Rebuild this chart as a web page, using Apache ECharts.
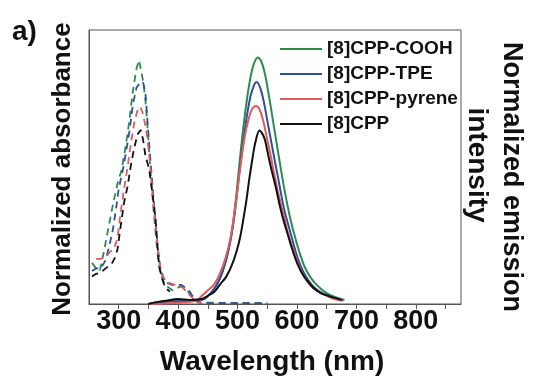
<!DOCTYPE html>
<html>
<head>
<meta charset="utf-8">
<script src="https://cdn.jsdelivr.net/npm/echarts@6/dist/echarts.min.js"></script>
<style>
html,body{margin:0;padding:0;background:#fff;}
#c{width:540px;height:381px;}
</style>
</head>
<body>
<div id="c"></div>
<script>
// ---- data (wavelength nm, normalized value) ----
var seriesNames = ['[8]CPP-COOH', '[8]CPP-TPE', '[8]CPP-pyrene', '[8]CPP'];
var xTickLabels = [300, 400, 500, 600, 700, 800];

// emission spectra (solid)
var coohEm = [[350,0],[370,0.008],[390,0.013],[410,0.015],[430,0.012],[445,0.02],[455,0.04],[465,0.07],[475,0.12],[485,0.2],[492,0.29],[498,0.4],[504,0.53],[510,0.65],[516,0.75],[522,0.83],[528,0.88],[534,0.9],[540,0.885],[546,0.84],[552,0.77],[558,0.69],[564,0.61],[570,0.53],[577,0.44],[584,0.36],[590,0.3],[596,0.25],[604,0.19],[613,0.135],[622,0.1],[630,0.077],[638,0.06],[650,0.04],[665,0.025],[680,0.015]];
var tpeEm = [[350,0],[370,0.006],[400,0.01],[430,0.012],[445,0.02],[455,0.04],[465,0.07],[475,0.12],[485,0.2],[492,0.28],[498,0.38],[504,0.5],[510,0.6],[516,0.69],[522,0.76],[528,0.8],[532,0.81],[538,0.79],[544,0.74],[550,0.67],[556,0.6],[562,0.53],[570,0.44],[578,0.35],[589,0.26],[598,0.19],[606,0.14],[615,0.1],[625,0.07],[635,0.05],[650,0.032],[665,0.02],[678,0.013]];
var pyreneEm = [[350,0],[400,0.005],[430,0.012],[440,0.03],[450,0.05],[460,0.07],[470,0.11],[480,0.17],[488,0.24],[494,0.32],[500,0.42],[506,0.52],[512,0.61],[518,0.67],[524,0.71],[531,0.723],[537,0.71],[543,0.67],[549,0.61],[555,0.55],[562,0.47],[570,0.39],[578,0.32],[586,0.25],[595,0.19],[603,0.14],[612,0.1],[622,0.07],[632,0.05],[645,0.035],[660,0.02],[676,0.012]];
var cppEm = [[350,0],[360,0.005],[380,0.012],[400,0.018],[420,0.015],[440,0.018],[450,0.03],[461,0.045],[470,0.07],[481,0.1],[490,0.14],[498,0.19],[504,0.24],[509,0.3],[515,0.38],[520,0.46],[525,0.53],[530,0.59],[537,0.633],[542,0.62],[546,0.6],[550,0.56],[556,0.5],[565,0.42],[572,0.35],[578,0.3],[585,0.25],[592,0.2],[602,0.14],[612,0.1],[627,0.06],[640,0.04],[655,0.028],[675,0.015]];

// absorbance spectra (dashed)
var coohAbs = [[255,0.15],[262,0.13],[268,0.12],[275,0.19],[282,0.27],[290,0.36],[298,0.44],[305,0.49],[312,0.58],[318,0.67],[324,0.78],[330,0.86],[334,0.89],[338,0.85],[342,0.8],[346,0.72],[350,0.6],[354,0.47],[358,0.36],[362,0.26],[366,0.17],[370,0.11],[378,0.07],[390,0.05],[405,0.065],[415,0.05],[425,0.02],[435,0.005],[550,0.003]];
var tpeAbs = [[255,0.12],[262,0.13],[270,0.13],[278,0.16],[285,0.22],[290,0.27],[295,0.34],[300,0.42],[306,0.48],[312,0.55],[318,0.63],[324,0.73],[330,0.79],[337,0.81],[341,0.81],[345,0.77],[348,0.68],[351,0.59],[354,0.51],[358,0.4],[362,0.3],[366,0.2],[370,0.13],[378,0.08],[390,0.07],[405,0.07],[418,0.05],[430,0.01],[440,0.003],[550,0.003]];
var pyreneAbs = [[262,0.165],[270,0.165],[278,0.17],[285,0.19],[292,0.2],[298,0.24],[303,0.33],[309,0.42],[315,0.5],[320,0.58],[326,0.66],[332,0.71],[336,0.72],[340,0.7],[344,0.66],[348,0.61],[352,0.53],[356,0.43],[360,0.33],[364,0.24],[368,0.16],[372,0.11],[380,0.08],[395,0.07],[408,0.06],[418,0.035],[430,0.01],[440,0.003]];
var cppAbs = [[255,0.1],[262,0.11],[270,0.115],[278,0.13],[284,0.14],[289,0.15],[294,0.17],[298,0.2],[303,0.28],[309,0.37],[315,0.43],[320,0.5],[326,0.57],[332,0.62],[337,0.635],[341,0.6],[345,0.54],[349,0.51],[352,0.48],[357,0.4],[362,0.31],[365,0.22],[368,0.14],[372,0.1],[378,0.06],[386,0.045]];

var colors = ['#2e8b50', '#2f4f9e', '#e05c5c', '#111111'];
var emData = [coohEm, tpeEm, pyreneEm, cppEm];
var absData = [coohAbs, tpeAbs, pyreneAbs, cppAbs];

var FONT = '"Liberation Sans", Arial, sans-serif';
var chart = echarts.init(document.getElementById('c'), null, {renderer: 'canvas'});

var series = [];
for (var i = 0; i < 4; i++) {
  series.push({
    name: seriesNames[i] + ' abs', type: 'line', data: absData[i], showSymbol: false, symbol: 'none',
    lineStyle: {color: colors[i], width: 1.8, type: [7, 5]}, itemStyle: {color: colors[i]}, z: 2
  });
}
for (var j = 0; j < 4; j++) {
  series.push({
    name: seriesNames[j], type: 'line', data: emData[j], showSymbol: false, symbol: 'none', smooth: 0.35,
    lineStyle: {color: colors[j], width: 2}, itemStyle: {color: colors[j]}, z: 3
  });
}

chart.setOption({
  animation: false,
  backgroundColor: '#fff',
  grid: {left: 89, right: 79, top: 30, bottom: 77, show: true, borderColor: '#555', borderWidth: 1},
  legend: {
    data: seriesNames, orient: 'vertical', left: 275, top: 34, itemWidth: 42, itemHeight: 2, itemGap: 5,
    icon: 'rect',
    textStyle: {fontFamily: FONT, fontWeight: 'bold', fontSize: 19, color: '#111', lineHeight: 20}
  },
  xAxis: {
    type: 'value', min: 250, max: 876, interval: 50,
    axisLine: {show: true, lineStyle: {color: '#555', width: 1}},
    axisTick: {show: true, inside: false, length: 5, lineStyle: {color: '#555'}},
    splitLine: {show: false},
    axisLabel: {
      margin: 4, fontFamily: FONT, fontWeight: 'bold', fontSize: 27, color: '#111',
      showMinLabel: false, showMaxLabel: false,
      formatter: function (v) { return xTickLabels.indexOf(v) >= 0 ? String(v) : ''; }
    }
  },
  yAxis: {
    type: 'value', min: 0, max: 1,
    axisLine: {show: true, lineStyle: {color: '#555'}},
    axisTick: {show: false}, axisLabel: {show: false}, splitLine: {show: false}
  },
  graphic: [
    {type: 'text', left: 12, top: 18, style: {text: 'a)', font: 'bold 28px ' + FONT, fill: '#111'}},
    {type: 'text', x: 272, y: 362, style: {text: 'Wavelength (nm)', font: 'bold 28px ' + FONT, fill: '#111', textAlign: 'center', textVerticalAlign: 'middle'}},
    {type: 'text', x: 63, y: 169, rotation: Math.PI / 2, style: {text: 'Normalized absorbance', font: 'bold 26px ' + FONT, fill: '#111', textAlign: 'center', textVerticalAlign: 'middle'}},
    {type: 'text', x: 511, y: 177, rotation: -Math.PI / 2, style: {text: 'Normalized emission', font: 'bold 27px ' + FONT, fill: '#111', textAlign: 'center', textVerticalAlign: 'middle'}},
    {type: 'text', x: 477, y: 165, rotation: -Math.PI / 2, style: {text: 'intensity', font: 'bold 28px ' + FONT, fill: '#111', textAlign: 'center', textVerticalAlign: 'middle'}}
  ],
  series: series
});
</script>
</body>
</html>
